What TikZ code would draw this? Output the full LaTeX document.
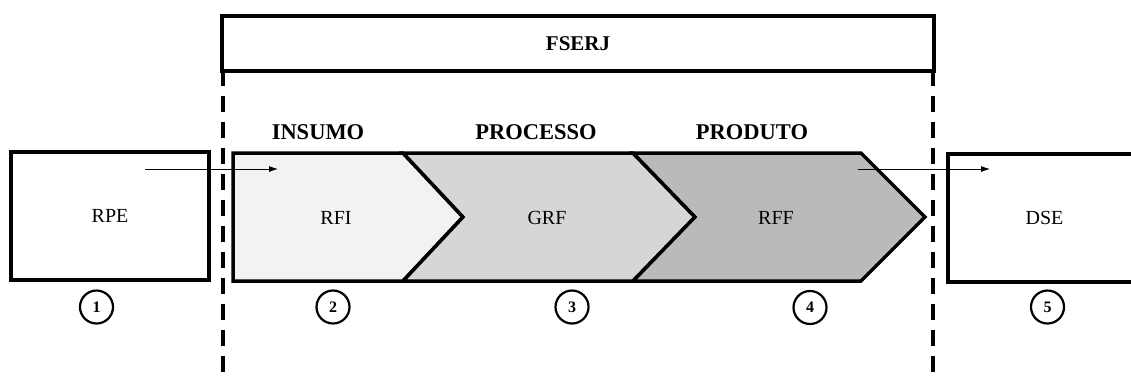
\documentclass[tikz,border=0pt]{standalone}
\usepackage{fontspec}
\setmainfont{Liberation Serif}
\usetikzlibrary{arrows.meta}
\begin{document}
\begin{tikzpicture}[x=1pt,y=-1pt,
  box/.style={draw=black,line width=4pt,fill=white,minimum width=198pt,minimum height=128pt,inner sep=0pt,font=\fontsize{20}{22}\selectfont},
  chev/.style={draw=black,line width=3.5pt,line join=miter},
  lbl/.style={font=\fontsize{20}{22}\selectfont},
  head/.style={font=\bfseries\fontsize{22.5}{24}\selectfont},
  num/.style={circle,draw=black,line width=2.2pt,minimum size=33pt,inner sep=0pt,font=\bfseries\fontsize{16}{18}\selectfont},
  bound/.style={line width=3.3pt,dash pattern=on 16pt off 10pt},
  flow/.style={line width=0.8pt,-{Latex[length=9pt,width=6pt]}}]
\useasboundingbox (0,0) rectangle (1131,378);
% FSERJ box
\node[draw=black,line width=4pt,minimum width=712pt,minimum height=55pt,inner sep=0pt,font=\bfseries\fontsize{21}{23}\selectfont] (fserj) at (578,43.5) {FSERJ};
% boundaries
\coordinate (bl1) at (223,70);
\coordinate (bl2) at (223,378);
\coordinate (br1) at (933,70);
\coordinate (br2) at (933,378);
\draw[bound] (bl1) -- (bl2);
\draw[bound] (br1) -- (br2);
% side boxes
\node[box] (rpe) at (110,216) {RPE};
\begin{scope}
\clip (940,140) rectangle (1131,300);
\node[box,minimum width=210pt,anchor=west] (dse) at (946,217.5) {};
\end{scope}
\node[lbl] (dsetext) at (1044.5,218) {DSE};
% chevrons
\filldraw[chev,fill=black!5] (233,153) -- (403,153) -- (463,217) -- (403,281) -- (233,281) -- cycle;
\filldraw[chev,fill=black!16] (403,153) -- (633,153) -- (695,217) -- (633,281) -- (403,281) -- (463,217) -- cycle;
\filldraw[chev,fill=black!27] (633,153) -- (861,153) -- (925,217) -- (861,281) -- (633,281) -- (695,217) -- cycle;
\node[lbl] (rfi) at (336,218) {RFI};
\node[lbl] (grf) at (547,218) {GRF};
\node[lbl] (rff) at (776,218) {RFF};
% headings
\node[head] (insumo) at (318,132) {INSUMO};
\node[head] (processo) at (536,132) {PROCESSO};
\node[head] (produto) at (752,132) {PRODUTO};
% arrows
\coordinate (a1s) at (145,169);
\coordinate (a1e) at (278,169);
\coordinate (a2s) at (858,169);
\coordinate (a2e) at (990,169);
\draw[flow] (a1s) -- (a1e);
\draw[flow] (a2s) -- (a2e);
% numbers
\node[num] (n1) at (96.5,307) {1};
\node[num] (n2) at (333,307) {2};
\node[num] (n3) at (572,307) {3};
\node[num] (n4) at (810,307.5) {4};
\node[num] (n5) at (1047.5,307) {5};
\end{tikzpicture}
\end{document}
